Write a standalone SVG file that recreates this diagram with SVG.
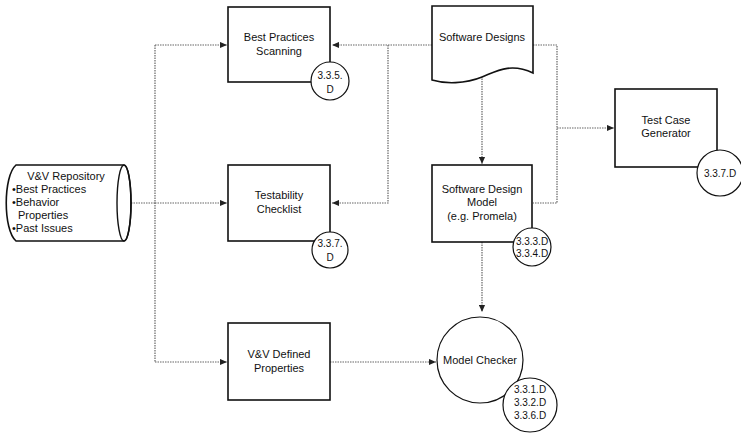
<svg xmlns="http://www.w3.org/2000/svg" width="741" height="436" viewBox="0 0 741 436">
<defs>
<style>
text{font-family:"Liberation Sans",Arial,sans-serif;font-size:11px;fill:#111;text-anchor:middle}
.sm{font-size:10px}
.box{fill:#fff;stroke:#111;stroke-width:1.6}
.circ{fill:#fff;stroke:#111;stroke-width:1.2}
.conn{fill:none;stroke:#666;stroke-width:1.2;stroke-dasharray:1.5 1}
</style>
<marker id="ah" viewBox="0 0 8 8" refX="8" refY="4" markerWidth="7" markerHeight="7" markerUnits="userSpaceOnUse" orient="auto">
<path d="M0,0.5 L8,4 L0,7.5 Z" fill="#222"/>
</marker>
</defs>
<rect width="741" height="436" fill="#fff"/>
<g id="connectors">
<path class="conn" d="M131,203 H155"/>
<path class="conn" d="M155,45 V362"/>
<path class="conn" d="M155,45 H227" marker-end="url(#ah)"/>
<path class="conn" d="M155,203 H227" marker-end="url(#ah)"/>
<path class="conn" d="M155,362 H227" marker-end="url(#ah)"/>
<path class="conn" d="M432,45 H332" marker-end="url(#ah)"/>
<path class="conn" d="M388,45 V203 H332" marker-end="url(#ah)"/>
<path class="conn" d="M533,45 H557 V203 H533"/>
<path class="conn" d="M557,128 H614" marker-end="url(#ah)"/>
<path class="conn" d="M482,76 V164" marker-end="url(#ah)"/>
<path class="conn" d="M482,242 V312" marker-end="url(#ah)"/>
<path class="conn" d="M330,362 H436" marker-end="url(#ah)"/>
</g>
<g id="repository">
<path class="box" d="M16,165 H124 A7,38 0 0 1 124,241 H16 C3,230 3,176 16,165 Z"/>
<ellipse cx="124" cy="203" rx="7" ry="38" fill="none" stroke="#111" stroke-width="1.4"/>
<text x="66" y="180">V&amp;V Repository</text>
<text x="12" y="193" style="text-anchor:start">•Best Practices</text>
<text x="12" y="206" style="text-anchor:start">•Behavior</text>
<text x="18" y="219" style="text-anchor:start">Properties</text>
<text x="12" y="232" style="text-anchor:start">•Past Issues</text>
</g>
<g id="best-practices">
<rect class="box" x="228" y="7" width="102" height="75"/>
<text x="279" y="41">Best Practices</text>
<text x="279" y="55">Scanning</text>
<circle class="circ" cx="330" cy="81" r="19"/>
<text class="sm" x="330" y="79">3.3.5.</text>
<text class="sm" x="330" y="93">D</text>
</g>
<g id="testability">
<rect class="box" x="228" y="165" width="102" height="76"/>
<text x="279" y="199">Testability</text>
<text x="279" y="213">Checklist</text>
<circle class="circ" cx="330" cy="250" r="18"/>
<text class="sm" x="330" y="247">3.3.7.</text>
<text class="sm" x="330" y="261">D</text>
</g>
<g id="vv-defined">
<rect class="box" x="228" y="323" width="102" height="77"/>
<text x="279" y="358">V&amp;V Defined</text>
<text x="279" y="372">Properties</text>
</g>
<g id="software-designs">
<path class="box" d="M432,6 H533 V73 C510,62 495,72 482,77 C465,84 445,84 432,80 Z"/>
<text x="482" y="41">Software Designs</text>
</g>
<g id="design-model">
<rect class="box" x="432" y="165" width="100" height="77"/>
<text x="482" y="193">Software Design</text>
<text x="482" y="206">Model</text>
<text x="482" y="220">(e.g. Promela)</text>
<circle class="circ" cx="532" cy="247" r="19"/>
<text class="sm" x="532" y="245">3.3.3.D</text>
<text class="sm" x="532" y="257">3.3.4.D</text>
</g>
<g id="test-case-generator">
<rect class="box" x="615" y="89" width="102" height="78"/>
<text x="666" y="124">Test Case</text>
<text x="666" y="137">Generator</text>
<circle class="circ" cx="720" cy="173" r="23"/>
<text class="sm" x="720" y="177">3.3.7.D</text>
</g>
<g id="model-checker">
<circle class="circ" cx="480" cy="360" r="43"/>
<text x="480" y="364">Model Checker</text>
<circle class="circ" cx="530" cy="405" r="27"/>
<text class="sm" x="530" y="393">3.3.1.D</text>
<text class="sm" x="530" y="406">3.3.2.D</text>
<text class="sm" x="530" y="419">3.3.6.D</text>
</g>
</svg>
